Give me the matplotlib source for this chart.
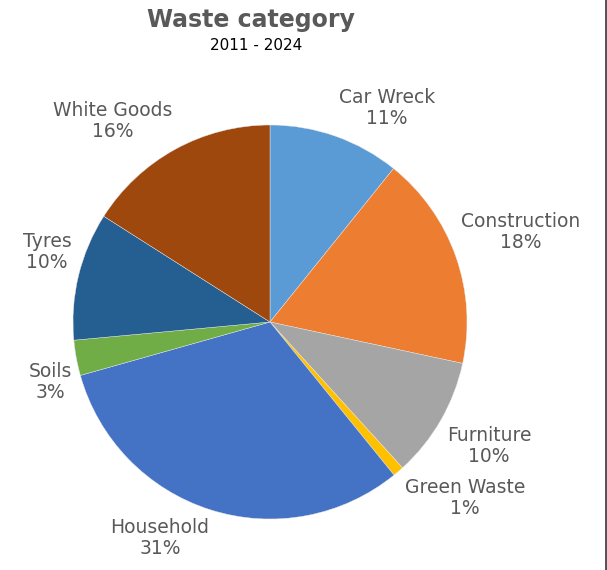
import matplotlib
matplotlib.use("Agg")
import matplotlib.pyplot as plt
from matplotlib.lines import Line2D

plt.rcParams["font.family"] = ["DejaVu Sans"]

# Udział kategorii odpadów
categories = ["Car Wreck", "Construction", "Furniture", "Green Waste",
              "Household", "Soils", "Tyres", "White Goods"]
shares = [10.8, 17.6, 9.9, 0.9, 31.5, 2.9, 10.5, 16.0]
colors = ["#5B9BD5", "#ED7D31", "#A5A5A5", "#FFC000",
          "#4472C4", "#70AD47", "#255E91", "#9E480E"]

# Pozycje etykiet (w jednostkach promienia)
label_pos = [(0.594, 1.086), (1.274, 0.457), (1.112, -0.629), (0.990, -0.893),
             (-0.558, -1.096), (-1.117, -0.305), (-1.132, 0.355), (-0.797, 1.020)]


def plot_pie():
    fig = plt.figure(figsize=(6.07, 5.70), dpi=100)
    ax = fig.add_axes([0, 0, 1, 1])
    ax.pie(shares, colors=colors, startangle=90, counterclock=False,
           radius=1.0, wedgeprops={"linewidth": 0.3, "edgecolor": "#e8e8e8"})
    ax.set_xlim(-270 / 197, 337 / 197)
    ax.set_ylim(-248 / 197, 322 / 197)
    ax.axis("off")

    total = sum(shares)
    for name, val, (x, y) in zip(categories, shares, label_pos):
        ax.text(x, y, f"{name}\n{val / total * 100:.0f}%", ha="center", va="center",
                fontsize=13.5, color="#595959", linespacing=1.1)

    fig.text(251 / 607, 1 - 20 / 570, "Waste category", ha="center", va="center",
             fontsize=17, fontweight="bold", color="#595959")
    fig.text(256 / 607, 1 - 46 / 570, "2011 - 2024", ha="center", va="center",
             fontsize=11, color="black")

    fig.add_artist(Line2D([605.5 / 607, 605.5 / 607], [0, 1], color="#333333",
                          linewidth=1.2, transform=fig.transFigure))
    fig.savefig("out.png", dpi=100)


if __name__ == "__main__":
    plot_pie()
